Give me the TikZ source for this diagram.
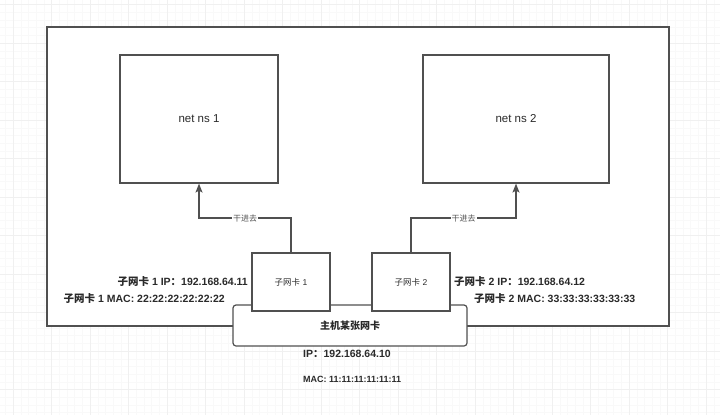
\documentclass[tikz,border=0pt]{standalone}
\usepackage{fontspec}
\setmainfont{Liberation Sans}
\newfontfamily\cjk{Noto Sans CJK SC}
\usetikzlibrary{arrows.meta}
\definecolor{linec}{HTML}{505050}
\definecolor{txtc}{HTML}{2a2a2a}
\tikzset{
  box/.style={draw=linec, line width=1.2pt, fill=white, inner sep=0pt, text=txtc},
  arr/.style={draw=linec, line width=1.1pt, -{Stealth[length=9pt,width=7pt,inset=2pt]}},
  lbl/.style={fill=white, inner sep=1pt, text=linec, font=\cjk\fontsize{8}{9}\selectfont},
  info/.style={inner sep=0pt, text=txtc, font=\bfseries\fontsize{10.5}{12}\selectfont},
  gridmaj/.style={draw=black!6, line width=0.5pt},
  gridmin/.style={draw=black!2.5, line width=0.4pt}
}
\begin{document}
\begin{tikzpicture}[x=1pt,y=-1pt]
\useasboundingbox (0,0) rectangle (720,415);
\fill[white] (0,0) rectangle (720,415);
% faint background grid
\foreach \i in {0,...,93} {\draw[gridmin] ({5.3+7.7*\i},0) -- ({5.3+7.7*\i},415);}
\foreach \i in {0,...,54} {\draw[gridmin] (0,{4.5+7.7*\i}) -- (720,{4.5+7.7*\i});}
\foreach \i in {0,...,18} {\draw[gridmaj] ({13+38.5*\i},0) -- ({13+38.5*\i},415);}
\foreach \i in {0,...,10} {\draw[gridmaj] (0,{4.5+38.5*\i}) -- (720,{4.5+38.5*\i});}

% outer host box
\node[box, minimum width=622pt, minimum height=299pt] (outer) at (358,176.5) {};
% namespaces
\node[box, minimum width=158pt, minimum height=128pt, font=\fontsize{11.5}{13}\selectfont] (ns1) at (199,119) {net ns 1};
\node[box, minimum width=186pt, minimum height=128pt, font=\fontsize{11.5}{13}\selectfont] (ns2) at (516,119) {net ns 2};
% host NIC
\node[box, rounded corners=3pt, minimum width=234pt, minimum height=41pt, font=\cjk\bfseries\fontsize{10}{12}\selectfont] (host) at (350,325.5) {主机某张网卡};
% sub NICs
\node[box, minimum width=78pt, minimum height=58pt, font=\fontsize{8.5}{10}\selectfont] (nic1) at (291,282) {{\cjk 子网卡} 1};
\node[box, minimum width=78pt, minimum height=58pt, font=\fontsize{8.5}{10}\selectfont] (nic2) at (411,282) {{\cjk 子网卡} 2};

% arrows
\coordinate (h) at (0,218);
\draw[arr] (nic1.north) -- (nic1.north |- h) -- node[lbl]{干进去} (ns1.south |- h) -- (ns1.south);
\draw[arr] (nic2.north) -- (nic2.north |- h) -- node[lbl]{干进去} (ns2.south |- h) -- (ns2.south);

% info labels
\node[info, anchor=east] (ip1) at (248,282) {{\cjk 子网卡} 1 IP{\cjk ：}192.168.64.11};
\node[info, anchor=east] (mac1) at (225,299) {{\cjk 子网卡} 1 MAC: 22:22:22:22:22:22};
\node[info, anchor=west] (ip2) at (454,282) {{\cjk 子网卡} 2 IP{\cjk ：}192.168.64.12};
\node[info, anchor=west] (mac2) at (474,299) {{\cjk 子网卡} 2 MAC: 33:33:33:33:33:33};
\node[info, anchor=west, font=\bfseries\fontsize{10.5}{12}\selectfont] (iph) at (303,354) {IP{\cjk ：}192.168.64.10};
\node[info, anchor=west, font=\bfseries\fontsize{9}{11}\selectfont] (mach) at (303,379) {MAC: 11:11:11:11:11:11};
\end{tikzpicture}
\end{document}
